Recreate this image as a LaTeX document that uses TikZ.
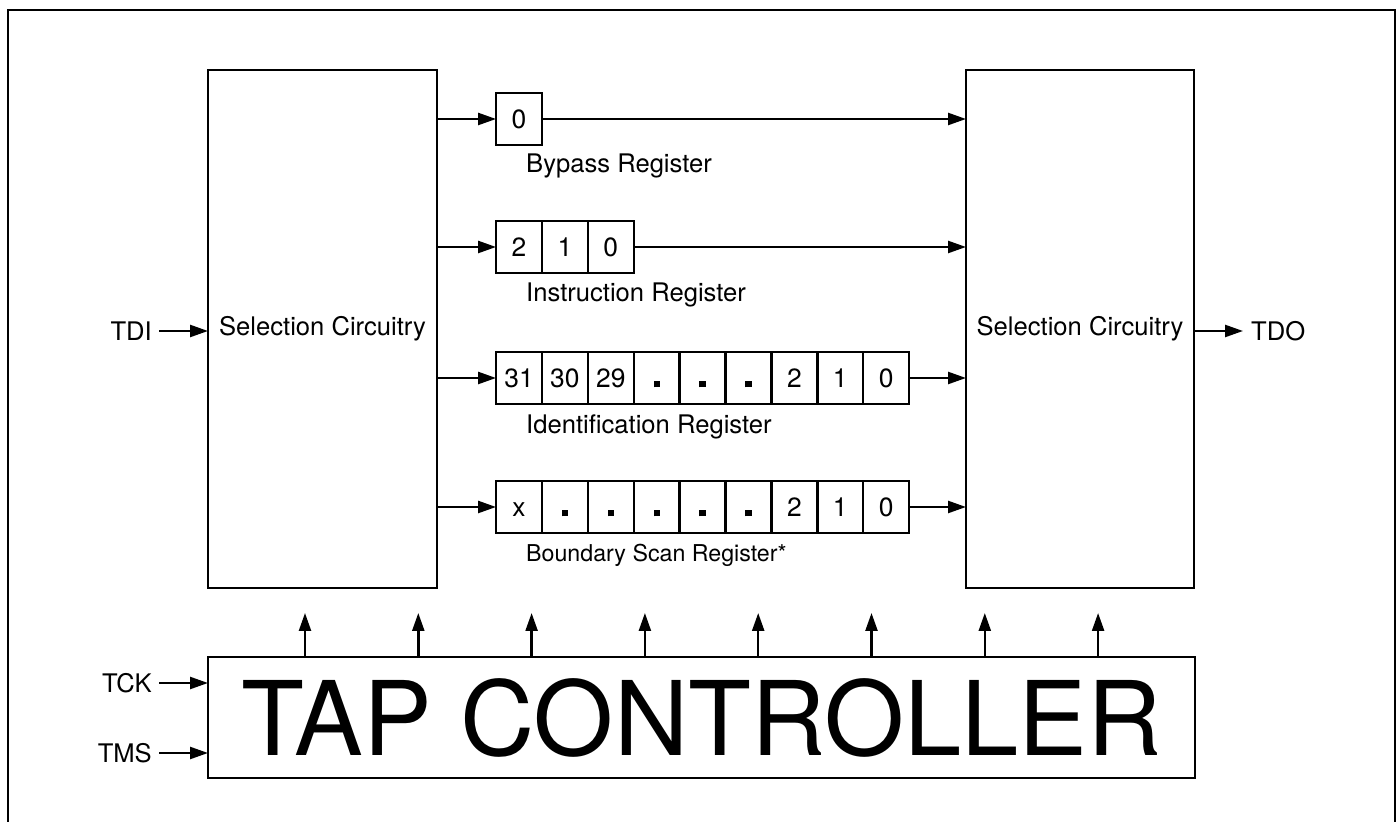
\documentclass[tikz,border=0pt]{standalone}
\usepackage{fontspec}
\setmainfont{TeX Gyre Heros}
\usetikzlibrary{arrows.meta}
\newcommand\sqdot{\rule{3.2pt}{3.2pt}}

\begin{document}
\begin{tikzpicture}[x=0.5pt,y=-0.5pt,line width=1.2pt]
    \tikzset{box/.style = {draw,inner sep=0pt,outer sep=0pt,font=\fontsize{12.8}{15}\selectfont}}
    \tikzset{cell/.style = {box,minimum width=22.95pt,minimum height=26pt,text height=9.3pt,text depth=0pt,font=\fontsize{13.2}{15}\selectfont}}
    \tikzset{sig/.style = {-{Triangle[length=9pt,width=6pt]}}}
    \tikzset{lbl/.style = {inner sep=0pt,font=\fontsize{12.8}{15}\selectfont}}
    \useasboundingbox (0,0) rectangle (1398,822);
    \draw[line width=1.3pt] (8,822) -- (8,10) -- (1395,10) -- (1395,822);
    \node[box,minimum width=114.5pt,minimum height=259pt] (selL) at (322.5,329) {Selection Circuitry};
    \node[box,minimum width=114pt,minimum height=259pt] (selR) at (1080,329) {Selection Circuitry};
    \node[box,minimum width=493.5pt,minimum height=60.5pt,font=\fontsize{51.5}{60}\selectfont]
      (tap) at (701.5,717.5) {TAP CONTROLLER};
    % registers
    \node[cell] (byp0) at (519,119) {0};
    \foreach \t [count=\i] in {2,1,0}
      \node[cell] (ir\i) at ({473.1+45.9*\i},247) {\t};
    \foreach \t [count=\i] in {31,30,29,\sqdot,\sqdot,\sqdot,2,1,0}
      \node[cell] (id\i) at ({473.1+45.9*\i},378) {\t};
    \foreach \t [count=\i] in {x,\sqdot,\sqdot,\sqdot,\sqdot,\sqdot,2,1,0}
      \node[cell] (bs\i) at ({473.1+45.9*\i},507) {\t};
    \node[lbl,anchor=west] (bypl) at (525,166) {Bypass Register};
    \node[lbl,anchor=west] (irl) at (525,295) {Instruction Register};
    \node[lbl,anchor=west] (idl) at (525,427) {Identification Register};
    \node[lbl,anchor=west,font=\fontsize{11.6}{13}\selectfont] (bsl) at (525,555) {Boundary Scan Register*};
    \draw[sig] (selL.east |- byp0) -- (byp0); \draw[sig] (byp0) -- (selR.west |- byp0);
    \draw[sig] (selL.east |- ir1) -- (ir1); \draw[sig] (ir3) -- (selR.west |- ir3);
    \draw[sig] (selL.east |- id1) -- (id1); \draw[sig] (id9) -- (selR.west |- id9);
    \draw[sig] (selL.east |- bs1) -- (bs1); \draw[sig] (bs9) -- (selR.west |- bs9);
    % pins
    \node[lbl,anchor=east] (tdi) at (153,331) {TDI};
    \node[lbl,anchor=west] (tdo) at (1250,331) {TDO};
    \node[lbl,anchor=east] (tck) at (153,683) {TCK};
    \node[lbl,anchor=east] (tms) at (153,753) {TMS};
    \draw[sig] ([xshift=3pt]tdi.east) -- (selL.west |- tdi);
    \draw[sig] (selR.east |- tdo) -- ([xshift=-3.5pt]tdo.west);
    \draw[sig] ([xshift=3pt]tck.east) -- (tap.west |- tck);
    \draw[sig] ([xshift=3pt]tms.east) -- (tap.west |- tms);
    % control lines
    \foreach \i in {0,...,7} {
      \coordinate (up\i) at ({305+113.3*\i},613);
      \draw[sig] (tap.north -| up\i) -- (up\i);
    }
  \end{tikzpicture}
\end{document}
